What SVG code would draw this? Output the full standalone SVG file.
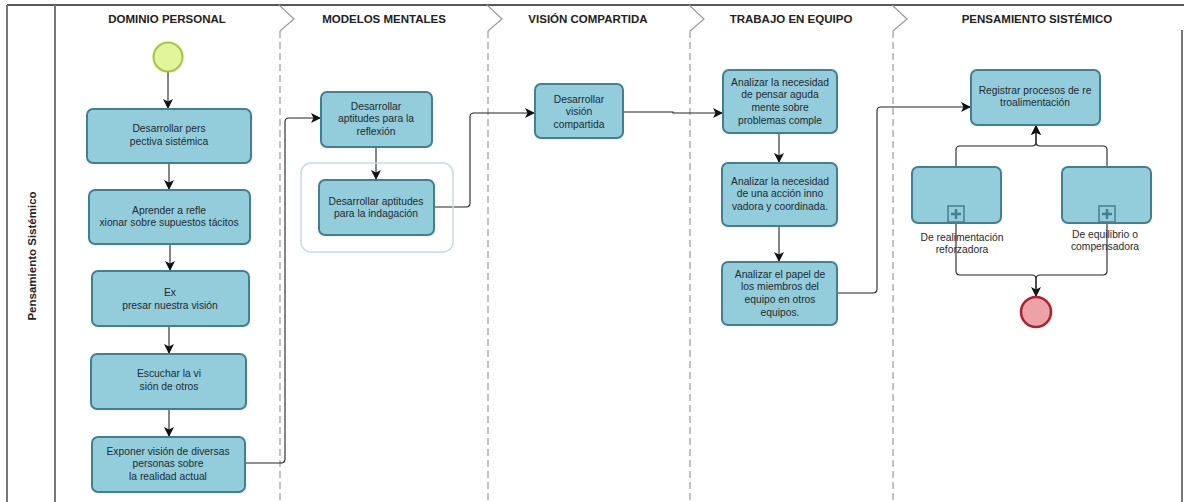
<svg xmlns="http://www.w3.org/2000/svg" width="1184" height="502" viewBox="0 0 1184 502">
<defs>
<style>
.task{fill:#93cddb;stroke:#41808e;stroke-width:2}
.t{font-family:"Liberation Sans",Arial,sans-serif;font-size:10.3px;fill:#1e2a30;text-anchor:middle}
.h{font-family:"Liberation Sans",Arial,sans-serif;font-size:11.5px;font-weight:bold;fill:#222;text-anchor:middle}
.sep{fill:none;stroke:#9a9a9a;stroke-width:1.2}
.dash{stroke-dasharray:7,4}
.c{fill:none;stroke:#222;stroke-width:1.1}
</style>
<marker id="arr" markerUnits="userSpaceOnUse" markerWidth="10" markerHeight="10" refX="10" refY="5" orient="auto">
<path d="M0,0 L10,5 L0,10 L2.5,5 z" fill="#111"/>
</marker>
</defs>
<rect width="1184" height="502" fill="#fff"/>
<g id="pool">
<line x1="7" y1="5" x2="1184" y2="5" stroke="#222" stroke-width="1.5"/>
<line x1="7" y1="5" x2="7" y2="502" stroke="#777" stroke-width="2"/>
<line x1="55" y1="5" x2="55" y2="502" stroke="#777" stroke-width="2"/>
<line x1="1182" y1="30" x2="1182" y2="502" stroke="#777" stroke-width="2"/>
<text class="h" transform="translate(36,256) rotate(-90)">Pensamiento Sistémico</text>
</g>
<g id="phases">
<path class="sep" d="M279,5 L294,19 L280,31"/>
<path class="sep dash" d="M280,31 V502"/>
<path class="sep" d="M487,5 L502,19 L488,31"/>
<path class="sep dash" d="M488,31 V502"/>
<path class="sep" d="M689,5 L704,19 L690,31"/>
<path class="sep dash" d="M690,31 V502"/>
<path class="sep" d="M892,5 L907,19 L893,31"/>
<path class="sep dash" d="M893,31 V502"/>
<text class="h" x="167" y="23">DOMINIO PERSONAL</text>
<text class="h" x="384" y="23">MODELOS MENTALES</text>
<text class="h" x="588" y="23">VISIÓN COMPARTIDA</text>
<text class="h" x="791" y="23">TRABAJO EN EQUIPO</text>
<text class="h" x="1037" y="23">PENSAMIENTO SISTÉMICO</text>
</g>
<g id="connectors">
<path class="c" d="M168,71.5 V109" marker-end="url(#arr)"/>
<path class="c" d="M169,163 V190" marker-end="url(#arr)"/>
<path class="c" d="M170,244 V271" marker-end="url(#arr)"/>
<path class="c" d="M169,326 V354" marker-end="url(#arr)"/>
<path class="c" d="M169,409 V437" marker-end="url(#arr)"/>
<path class="c" d="M245,463 H281 Q285,463 285,459 V122 Q285,118 289,118 H321" marker-end="url(#arr)"/>
<path class="c" d="M376,147 V180" marker-end="url(#arr)"/>
<path class="c" d="M434,207 H466 Q470,207 470,203 V117 Q470,113 474,113 H535" marker-end="url(#arr)"/>
<path class="c" d="M623,112 H673 V113 H723" marker-end="url(#arr)"/>
<path class="c" d="M779,133 V163" marker-end="url(#arr)"/>
<path class="c" d="M779,226 V262" marker-end="url(#arr)"/>
<path class="c" d="M837,293 H873 Q877,293 877,289 V111 Q877,107 881,107 H971" marker-end="url(#arr)"/>
<path class="c" d="M956,167 V150 Q956,146 960,146 H1032 Q1036,146 1036,142 V125" marker-end="url(#arr)"/>
<path class="c" d="M1107,167 V150 Q1107,146 1103,146 H1040 Q1036,146 1036,142 V125" marker-end="url(#arr)"/>
<path class="c" d="M956,223 V271 Q956,275 960,275 H1032 Q1036,275 1036,279 V297" marker-end="url(#arr)"/>
<path class="c" d="M1107,223 V271 Q1107,275 1103,275 H1040 Q1036,275 1036,279 V297"/>
</g>
<g id="start"><circle cx="168" cy="57" r="14.5" fill="#e2f59a" stroke="#9cc83a" stroke-width="2"/></g>
<g id="dp1"><rect class="task" x="87" y="109" width="164" height="54" rx="6"/><text class="t" x="169" y="132">Desarrollar pers</text><text class="t" x="169" y="145">pectiva sistémica</text></g>
<g id="dp2"><rect class="task" x="89" y="190" width="161" height="54" rx="6"/><text class="t" x="169" y="213.5">Aprender a refle</text><text class="t" x="169" y="226">xionar sobre supuestos tácitos</text></g>
<g id="dp3"><rect class="task" x="92" y="271" width="157" height="55" rx="6"/><text class="t" x="170" y="296">Ex</text><text class="t" x="170" y="308.5">presar nuestra visión</text></g>
<g id="dp4"><rect class="task" x="91" y="354" width="155" height="55" rx="6"/><text class="t" x="169" y="377">Escuchar la vi</text><text class="t" x="169" y="389.5">sión de otros</text></g>
<g id="dp5"><rect class="task" x="92" y="437" width="153" height="55" rx="6"/><text class="t" x="168" y="454.5">Exponer visión de diversas</text><text class="t" x="168" y="467">personas sobre</text><text class="t" x="168" y="479.5">la realidad actual</text></g>
<g id="mm1"><rect class="task" x="321" y="92" width="111" height="55" rx="6"/><text class="t" x="376" y="109.5">Desarrollar</text><text class="t" x="376" y="122">aptitudes para la</text><text class="t" x="376" y="134.5">reflexión</text></g>
<g id="mmgroup"><rect x="301" y="163" width="152" height="89" rx="10" fill="none" stroke="#c5dce2" stroke-width="1.5"/></g>
<g id="mm2"><rect class="task" x="319" y="180" width="115" height="55" rx="6"/><text class="t" x="376" y="204.5">Desarrollar aptitudes</text><text class="t" x="376" y="217">para la indagación</text></g>
<g id="vc1"><rect class="task" x="535" y="84" width="88" height="54" rx="6"/><text class="t" x="579" y="102.5">Desarrollar</text><text class="t" x="579" y="115">visión</text><text class="t" x="579" y="127.5">compartida</text></g>
<g id="te1"><rect class="task" x="723" y="70" width="114" height="63" rx="6"/><text class="t" x="780" y="85.5">Analizar la necesidad</text><text class="t" x="780" y="98.2">de pensar aguda</text><text class="t" x="780" y="110.9">mente sobre</text><text class="t" x="780" y="123.6">problemas comple</text></g>
<g id="te2"><rect class="task" x="722" y="163" width="115" height="63" rx="6"/><text class="t" x="780" y="184.5">Analizar la necesidad</text><text class="t" x="780" y="197.2">de una acción inno</text><text class="t" x="780" y="209.9">vadora y coordinada.</text></g>
<g id="te3"><rect class="task" x="722" y="262" width="115" height="63" rx="6"/><text class="t" x="780" y="277.5">Analizar el papel de</text><text class="t" x="780" y="290.2">los miembros del</text><text class="t" x="780" y="302.9">equipo en otros</text><text class="t" x="780" y="315.6">equipos.</text></g>
<g id="ps1"><rect class="task" x="971" y="70" width="129" height="55" rx="6"/><text class="t" x="1035" y="93.5">Registrar procesos de re</text><text class="t" x="1035" y="106">troalimentación</text></g>
<g id="sub1"><rect class="task" x="912" y="167" width="89" height="56" rx="6"/><rect x="948" y="206" width="16" height="16" fill="#93cddb" stroke="#41808e" stroke-width="1.5"/><path d="M956,209 V219 M951,214 H961" stroke="#41808e" stroke-width="2.5"/><text class="t" x="962" y="240.5">De realimentación</text><text class="t" x="962" y="253">reforzadora</text></g>
<g id="sub2"><rect class="task" x="1062" y="167" width="89" height="56" rx="6"/><rect x="1099" y="206" width="16" height="16" fill="#93cddb" stroke="#41808e" stroke-width="1.5"/><path d="M1107,209 V219 M1102,214 H1112" stroke="#41808e" stroke-width="2.5"/><text class="t" x="1105" y="237.5">De equilibrio o</text><text class="t" x="1105" y="250">compensadora</text></g>
<g id="end"><circle cx="1036" cy="312" r="15" fill="#eba3a8" stroke="#b0202a" stroke-width="2.5"/></g>
</svg>
